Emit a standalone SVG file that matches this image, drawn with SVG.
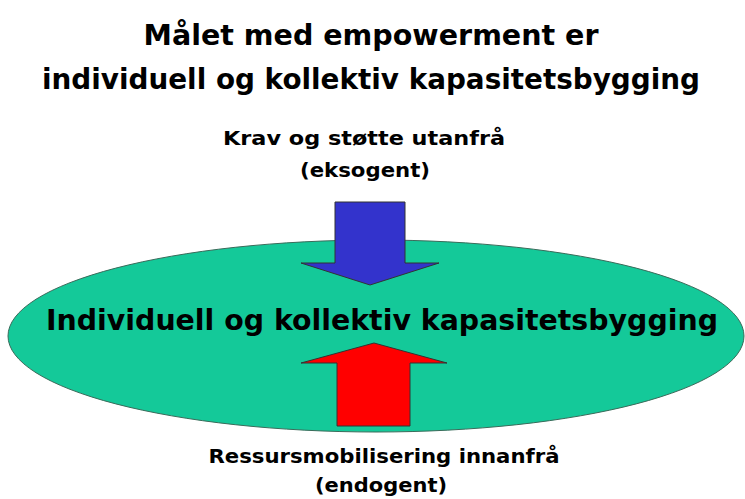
<svg xmlns="http://www.w3.org/2000/svg" width="745" height="499" viewBox="0 0 745 499">
<style>
text{font-family:"Comic Sans MS","DejaVu Sans","Liberation Sans",sans-serif;font-weight:bold;fill:#000;text-anchor:middle}
.t{font-size:29px}
.m{font-size:28px}
.s{font-size:19px}
.arrow{stroke:#333;stroke-width:1}
</style>
<rect width="745" height="499" fill="#fff"/>
<g id="title">
<text class="t" x="371" y="45" textLength="455" lengthAdjust="spacingAndGlyphs">Målet med empowerment er</text>
<text class="t" x="371" y="89" textLength="658" lengthAdjust="spacingAndGlyphs">individuell og kollektiv kapasitetsbygging</text>
</g>
<g id="top-label">
<text class="s" x="364" y="145" textLength="282" lengthAdjust="spacingAndGlyphs">Krav og støtte utanfrå</text>
<text class="s" x="365" y="177" textLength="130" lengthAdjust="spacingAndGlyphs">(eksogent)</text>
</g>
<g id="ellipse-node">
<ellipse cx="376" cy="336" rx="368" ry="96" fill="#14C999" stroke="#3a6b5a" stroke-width="1"/>
</g>
<g id="connectors">
<polygon class="arrow" fill="#3333CC" points="335,202 405,202 405,263 439,263 370,285 301,263 335,263"/>
<polygon class="arrow" fill="#FF0000" points="374,343 447,363 410,363 410,426 337,426 337,363 301,363"/>
</g>
<g id="center-label">
<text class="m" x="382" y="330" textLength="672" lengthAdjust="spacingAndGlyphs">Individuell og kollektiv kapasitetsbygging</text>
</g>
<g id="bottom-label">
<text class="s" x="384" y="463" textLength="351" lengthAdjust="spacingAndGlyphs">Ressursmobilisering innanfrå</text>
<text class="s" x="381" y="492" textLength="132" lengthAdjust="spacingAndGlyphs">(endogent)</text>
</g>
</svg>
